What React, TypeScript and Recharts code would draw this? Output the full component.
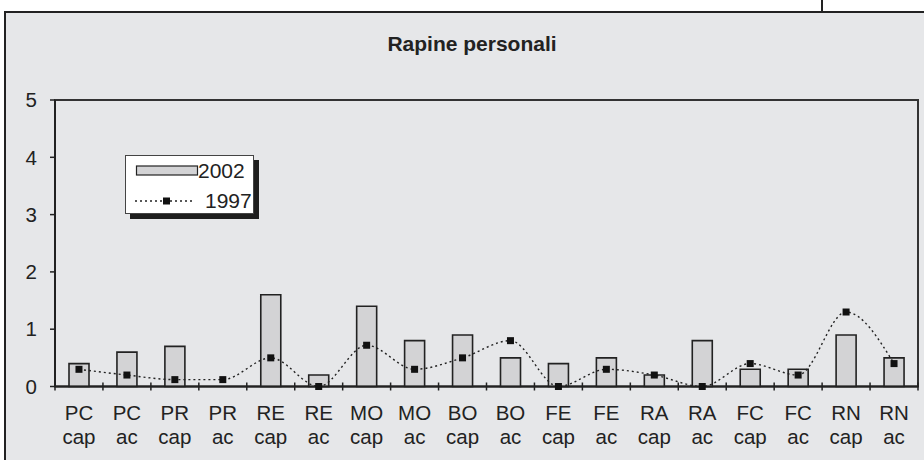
import React from "react";
import { ComposedChart, Bar, Line, XAxis, YAxis, Legend, ReferenceArea } from "recharts";

const regions = ["PC", "PC", "PR", "PR", "RE", "RE", "MO", "MO", "BO", "BO", "FE", "FE", "RA", "RA", "FC", "FC", "RN", "RN"];
const kinds = ["cap", "ac", "cap", "ac", "cap", "ac", "cap", "ac", "cap", "ac", "cap", "ac", "cap", "ac", "cap", "ac", "cap", "ac"];
const v2002 = [0.4, 0.6, 0.7, 0, 1.6, 0.2, 1.4, 0.8, 0.9, 0.5, 0.4, 0.5, 0.2, 0.8, 0.3, 0.3, 0.9, 0.5];
const v1997 = [0.3, 0.2, 0.12, 0.12, 0.5, 0, 0.72, 0.3, 0.5, 0.8, 0, 0.3, 0.2, 0, 0.4, 0.2, 1.3, 0.4];
const yTicks = [0, 1, 2, 3, 4, 5];

const data = regions.map((r, i) => ({
  cat: r + " " + kinds[i],
  region: r,
  kind: kinds[i],
  y2002: v2002[i],
  y1997: v1997[i],
}));

const FONT = "'Liberation Sans', Arial, sans-serif";
const INK = "#222";
const BG = "#e6e7e9";

const XTick = (props: any) => {
  const { x, y, payload, index } = props;
  const half = payload && payload.offset ? payload.offset : 24;
  const d = data[index] || { region: "", kind: "" };
  return (
    <g>
      <line x1={x - half} x2={x - half} y1={y - 4} y2={y + 4} stroke={INK} strokeWidth={1.5} />
      {index === data.length - 1 && (
        <line x1={x + half} x2={x + half} y1={y - 4} y2={y + 4} stroke={INK} strokeWidth={1.5} />
      )}
      <text x={x} y={y + 33} textAnchor="middle" fontSize={20.5} fontFamily={FONT} fill={INK}>
        {d.region}
      </text>
      <text x={x} y={y + 57} textAnchor="middle" fontSize={20.5} fontFamily={FONT} fill={INK}>
        {d.kind}
      </text>
    </g>
  );
};

const SquareDot = (props: any) => {
  const { cx, cy } = props;
  if (cx == null || cy == null) return null;
  return <rect x={cx - 3.5} y={cy - 3.5} width={7} height={7} fill="#111" />;
};

const LegendBox = () => (
  <div
    style={{
      width: 127,
      height: 57,
      background: "#fff",
      border: "1px solid #444",
      boxShadow: "5px 5px 0 #1e1e1e",
    }}
  >
    <svg width={127} height={57} style={{ display: "block" }}>
      <rect x={10.5} y={10} width={61} height={9} fill="#d3d3d5" stroke={INK} strokeWidth={1.2} />
      <text x={72} y={22} fontSize={21} fontFamily={FONT} fill={INK}>2002</text>
      <line x1={9} x2={68} y1={45} y2={45} stroke={INK} strokeWidth={1.3} strokeDasharray="2 3" />
      <rect x={37} y={41.5} width={7} height={7} fill="#111" />
      <text x={79} y={52} fontSize={21} fontFamily={FONT} fill={INK}>1997</text>
    </svg>
  </div>
);

export default function App() {
  return (
    <div style={{ position: "absolute", left: 0, top: 0, width: 924, height: 460, overflow: "hidden", background: "#fff" }}>
      <div
        style={{
          position: "absolute",
          left: 4,
          top: 11,
          width: 940,
          height: 470,
          background: BG,
          borderTop: "2px solid " + INK,
          borderLeft: "2px solid " + INK,
        }}
      />
      <div style={{ position: "absolute", left: 821, top: 0, width: 1.5, height: 12, background: INK }} />
      <div style={{ position: "absolute", left: 0, top: 0 }}>
        <ComposedChart
          width={924}
          height={460}
          data={data}
          margin={{ top: 100, right: 6, bottom: 13.5, left: 0 }}
          barSize={20}
        >
          <text x={472} y={51} textAnchor="middle" fontSize={21} fontWeight="bold" fontFamily={FONT} fill={INK}>
            Rapine personali
          </text>
          <XAxis
            dataKey="cat"
            interval={0}
            height={60}
            tickSize={0}
            tickMargin={0}
            tickLine={false}
            axisLine={{ stroke: INK, strokeWidth: 2 }}
            tick={<XTick />}
          />
          <YAxis
            domain={[0, 5]}
            ticks={yTicks}
            width={55}
            tickSize={5}
            tickMargin={13}
            interval={0}
            axisLine={{ stroke: INK, strokeWidth: 2 }}
            tickLine={{ stroke: INK, strokeWidth: 1.5 }}
            tick={{ fontSize: 20.5, fontFamily: FONT, fill: INK }}
          />
          <ReferenceArea
            y1={0}
            y2={5}
            fill="none"
            stroke="#333"
            strokeWidth={2}
            ifOverflow="visible"
          />
          <Legend
            layout="horizontal"
            verticalAlign="middle"
            align="center"
            wrapperStyle={{ position: "absolute", left: 125, top: 155, width: 130, height: 60 }}
            content={() => <LegendBox />}
          />
          <Bar
            dataKey="y2002"
            fill="#d3d3d5"
            stroke={INK}
            strokeWidth={1.6}
            isAnimationActive={false}
          />
          <Line
            dataKey="y1997"
            type="monotone"
            stroke={INK}
            strokeWidth={1.4}
            strokeDasharray="2 3"
            dot={<SquareDot />}
            activeDot={false}
            isAnimationActive={false}
          />
        </ComposedChart>
      </div>
    </div>
  );
}
